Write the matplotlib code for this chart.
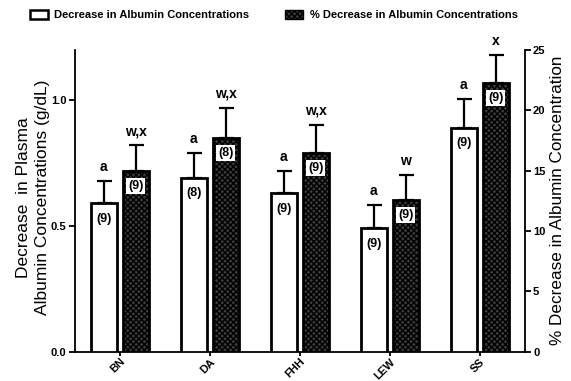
import matplotlib
matplotlib.use("Agg")
import matplotlib.pyplot as plt
from matplotlib.patches import Patch
import numpy as np

plt.rcParams["font.family"] = ["Liberation Sans", "DejaVu Sans"]
plt.rcParams["hatch.linewidth"] = 1.0

strains = ["BN", "DA", "FHH", "LEW", "SS"]

# decrease in albumin (g/dL), left axis
dec_mean = [0.59, 0.69, 0.63, 0.49, 0.89]
dec_sem = [0.09, 0.10, 0.09, 0.095, 0.115]
dec_n = ["(9)", "(8)", "(9)", "(9)", "(9)"]
dec_sig = ["a", "a", "a", "a", "a"]

# % decrease in albumin, right axis
pct_mean = [15.0, 17.7, 16.5, 12.6, 22.3]
pct_sem = [2.1, 2.5, 2.3, 2.0, 2.3]
pct_n = ["(9)", "(8)", "(9)", "(9)", "(9)"]
pct_sig = ["w,x", "w,x", "w,x", "w", "x"]

x = np.arange(len(strains))
w = 0.29
off = 0.178

fig = plt.figure(figsize=(5.71, 3.81), dpi=100)
ax = fig.add_axes([0.131, 0.077, 0.788, 0.792])
ax2 = ax.twinx()

ax.bar(x - off, dec_mean, w, color="white", edgecolor="black", linewidth=2, zorder=3)
ax.errorbar(x - off, dec_mean, yerr=[np.zeros(5), dec_sem], fmt="none",
            ecolor="black", elinewidth=1.6, capsize=5.4, capthick=1.6, zorder=2)

ax2.bar(x + off, pct_mean, w, color="#3c3c3c", edgecolor="black", linewidth=2,
        hatch="xxxxxx", zorder=3)
ax2.errorbar(x + off, pct_mean, yerr=[np.zeros(5), pct_sem], fmt="none",
             ecolor="black", elinewidth=1.6, capsize=5.4, capthick=1.6, zorder=2)

for i in range(len(strains)):
    ax.annotate(dec_sig[i], (x[i] - off, dec_mean[i] + dec_sem[i]), xytext=(0, 5),
                textcoords="offset points", ha="center", va="bottom",
                fontsize=10, fontweight="bold")
    ax.annotate(dec_n[i], (x[i] - off, dec_mean[i]), xytext=(0, -11),
                textcoords="offset points", ha="center", va="center",
                fontsize=9, fontweight="bold", zorder=5)
    ax2.annotate(pct_sig[i], (x[i] + off, pct_mean[i] + pct_sem[i]), xytext=(0, 5),
                 textcoords="offset points", ha="center", va="bottom",
                 fontsize=10, fontweight="bold")
    ax2.annotate(pct_n[i], (x[i] + off, pct_mean[i]), xytext=(0, -11),
                 textcoords="offset points", ha="center", va="center",
                 fontsize=9, fontweight="bold", zorder=5,
                 bbox=dict(boxstyle="square,pad=0.15", fc="white", ec="none"))

ax.set_xlim(-0.5, 4.5)
ax.set_ylim(0, 1.2)
ax2.set_ylim(0, 25)
ax.set_yticks([0.0, 0.5, 1.0])
ax.set_yticklabels(["0.0", "0.5", "1.0"])
ax2.set_yticks([0, 5, 10, 15, 20, 25])
ax.set_xticks(x)
ax.set_xticklabels(strains, rotation=45, ha="right", rotation_mode="anchor",
                   fontsize=6.8, fontweight="bold")

for a in (ax, ax2):
    a.spines["top"].set_visible(False)
    for s in ("left", "right", "bottom"):
        a.spines[s].set_linewidth(1.3)
    a.tick_params(width=1.3, length=4, labelsize=8, pad=2)
ax.tick_params(axis="x", length=3, pad=0.5)
ax.spines["right"].set_visible(False)
ax2.spines["left"].set_visible(False)
ax2.spines["bottom"].set_visible(False)
for lbl in ax.get_yticklabels() + ax2.get_yticklabels():
    lbl.set_fontweight("bold")

ax.set_ylabel("Decrease  in Plasma\nAlbumin Concentrations (g/dL)", fontsize=12.5,
              linespacing=1.3)
ax.yaxis.set_label_coords(-0.056, 0.51)
ax2.set_ylabel("% Decrease in Albumin Concentration", fontsize=12.3, labelpad=3)

handles = [Patch(facecolor="white", edgecolor="black", linewidth=1.8),
           Patch(facecolor="#3c3c3c", edgecolor="black", hatch="xxxxxx", linewidth=1.0)]
fig.legend(handles, ["Decrease in Albumin Concentrations", "% Decrease in Albumin Concentrations"],
           loc="upper left", bbox_to_anchor=(0.035, 1.0), ncol=2, frameon=False,
           prop=dict(size=8, weight="bold"), columnspacing=3.2, handlelength=1.6,
           handleheight=0.8, handletextpad=0.6)

fig.savefig("out.png", dpi=100)
